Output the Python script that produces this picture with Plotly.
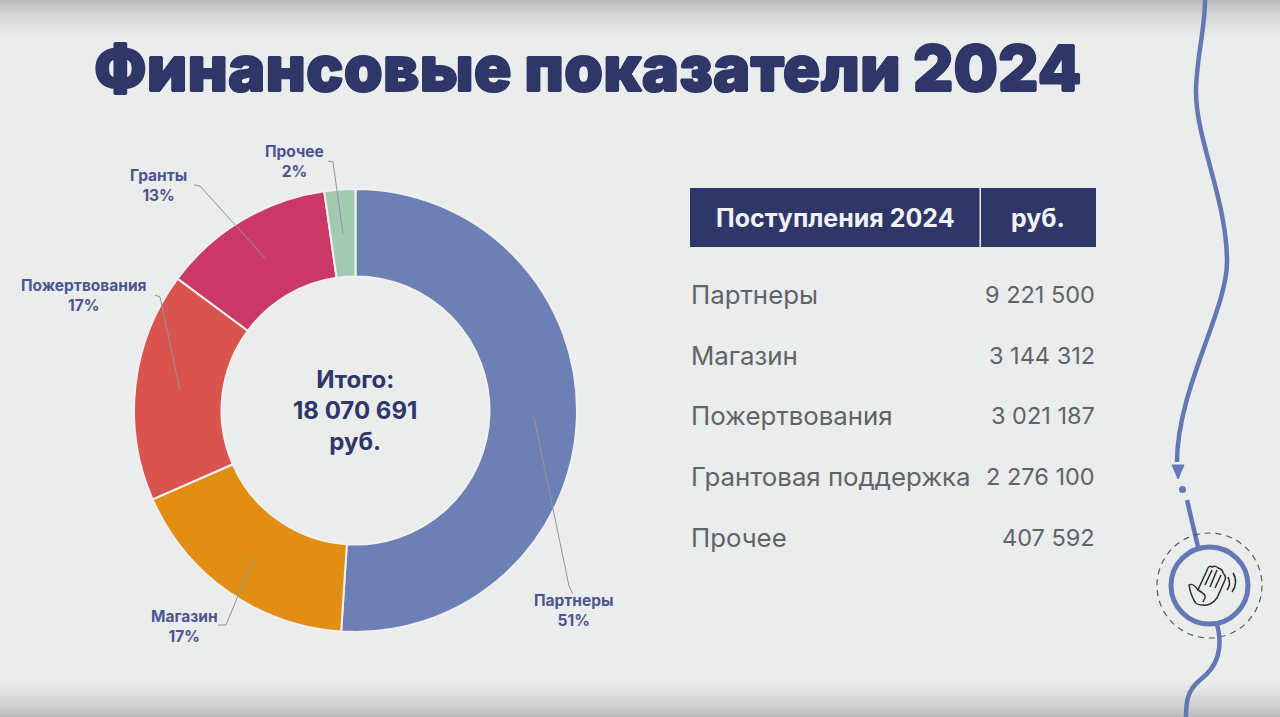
import plotly.graph_objects as go

# Data
pie_labels = ['Партнеры', 'Магазин', 'Пожертвования', 'Гранты', 'Прочее']
pie_values = [9221500, 3144312, 3021187, 2276100, 407592]
pie_colors = ['#6d80b5', '#e08f14', '#d9534f', '#cb3766', '#a3c9b3']
pie_pct = ['51%', '17%', '17%', '13%', '2%']
total_text = 'Итого:<br>18 070 691<br>руб.'

table_header = ['Поступления 2024', 'руб.']
table_names = ['Партнеры', 'Магазин', 'Пожертвования', 'Грантовая поддержка', 'Прочее']
table_amounts = ['9 221 500', '3 144 312', '3 021 187', '2 276 100', '407 592']
row_y = [294, 355, 415, 476, 537]

# label anchor and leader line for each slice
label_pos = [(574, 610), (184, 626), (84, 295), (158, 185), (294, 161)]
leaders = [
    'M 573 594 L 569 586 L 534 417',
    'M 218 625 L 226 625 L 254 557',
    'M 155 295 L 160 297 L 180 390',
    'M 194 185 L 200 186 L 265 258',
    'M 328 161 L 333 162 L 343 234',
]

NAVY = '#2f3768'
BLUE = '#6478b4'
LABEL = '#4b5590'
GREY = '#5f6468'
INK = '#2b2d33'

W, H = 1280, 717
fig = go.Figure()

fig.add_trace(go.Pie(
    labels=pie_labels, values=pie_values, sort=False, direction='clockwise', rotation=0,
    hole=0.605, textinfo='none', hoverinfo='label+percent', showlegend=False,
    marker=dict(colors=pie_colors, line=dict(color='#f0f0f0', width=2)),
    domain=dict(x=[134 / W, 577 / W], y=[1 - 632 / H, 1 - 189 / H]),
))

shapes = []

# video vignette along the top and bottom edges
for i in range(20):
    op = 0.2 * (1 - i / 20) ** 1.6
    shapes.append(dict(type='rect', x0=0, x1=W, y0=i * 2, y1=i * 2 + 2, fillcolor='black',
                       opacity=op, line_width=0, layer='below'))
    shapes.append(dict(type='rect', x0=0, x1=W, y0=H - i * 2 - 2, y1=H - i * 2, fillcolor='black',
                       opacity=op, line_width=0, layer='below'))

# table header
shapes.append(dict(type='rect', x0=690, x1=979.5, y0=188, y1=247, fillcolor=NAVY, line_width=0))
shapes.append(dict(type='rect', x0=981, x1=1096, y0=188, y1=247, fillcolor=NAVY, line_width=0))

# leader lines
for p in leaders:
    shapes.append(dict(type='path', path=p, line=dict(color='#8f979d', width=1)))

# wavy line on the right
shapes.append(dict(type='path', line=dict(color=BLUE, width=4.5),
                   path='M 1205 0 C 1205 30 1196 60 1196 92 C 1196 140 1227 200 1227 262 '
                        'C 1227 310 1177 390 1177 462'))
shapes.append(dict(type='path', path='M 1172 465 L 1184 465 L 1178 479 Z', fillcolor=BLUE,
                   line=dict(color=BLUE, width=1)))
shapes.append(dict(type='circle', x0=1179, x1=1186, y0=486, y1=493, fillcolor=BLUE, line_width=0))
shapes.append(dict(type='path', path='M 1187 500 L 1198 547', line=dict(color=BLUE, width=4.5)))
shapes.append(dict(type='circle', x0=1171, x1=1248, y0=547, y1=624, line=dict(color=BLUE, width=5)))
shapes.append(dict(type='circle', x0=1157, x1=1262, y0=533, y1=638,
                   line=dict(color='#55595e', width=1.2, dash='6px,5px')))
shapes.append(dict(type='path', line=dict(color=BLUE, width=4.5),
                   path='M 1217 624 C 1224 650 1216 668 1200 680 C 1188 690 1186 700 1186 717'))

# waving hand icon
hand = ('M 1189 585 C 1192 583 1196 587 1198 590 L 1208 568 C 1209 566 1211 566 1212 567 '
        'C 1214 566 1217 566 1218 568 C 1221 569 1223 571 1223 573 C 1225 575 1226 578 1225 580 '
        'L 1217 598 C 1213 603 1208 606 1203 605 C 1199 605 1196 604 1195 602 C 1192 597 1190 592 1189 585 Z')
icon_lines = ['M 1205 585 L 1212 570', 'M 1210 587 L 1217 570', 'M 1215 588 L 1221 575',
              'M 1198 590 C 1202 592 1206 595 1205 598 L 1203 602',
              'M 1228 577 C 1230 581 1230 586 1227 590', 'M 1233 573 C 1237 579 1236 587 1232 592']
shapes.append(dict(type='path', path=hand, line=dict(color=INK, width=1.5)))
for p in icon_lines:
    shapes.append(dict(type='path', path=p, line=dict(color=INK, width=1.5)))

annotations = []


def text(x, y, s, size, color, anchor='center', weight=400, shadow=None):
    annotations.append(dict(x=x, y=y, xref='x', yref='y', text=s, showarrow=False, xanchor=anchor,
                            yanchor='middle', align='center',
                            font=dict(family='Inter', size=size, color=color, weight=weight,
                                      shadow=shadow or 'none')))


text(587, 68, 'Финансовые показатели 2024', 62.6, NAVY, weight=900,
     shadow='0.7px 0 0 #2f3768, -0.7px 0 0 #2f3768, 0 0.7px 0 #2f3768, 0 -0.7px 0 #2f3768')
text(355, 410, total_text, 24, NAVY, weight=700)

for (x, y), name, pct in zip(label_pos, pie_labels, pie_pct):
    text(x, y, f'{name}<br>{pct}', 15.5, LABEL, weight=700)

text(835, 218, table_header[0], 25, '#f2f2f2', weight=700)
text(1038, 218, table_header[1], 25, '#f2f2f2', weight=700)
for y, name, amount in zip(row_y, table_names, table_amounts):
    text(689, y, name, 25.8, GREY, anchor='left')
    text(1097, y, amount, 23.5, GREY, anchor='right')

fig.update_layout(
    width=W, height=H, margin=dict(l=0, r=0, t=0, b=0),
    paper_bgcolor='#ebecec', plot_bgcolor='rgba(0,0,0,0)',
    xaxis=dict(range=[0, W], visible=False, fixedrange=True),
    yaxis=dict(range=[H, 0], visible=False, fixedrange=True),
    shapes=shapes, annotations=annotations,
)
# the page has a default body margin, drop it so the figure fills the window
fig.write_html('out.html', config={'displayModeBar': False},
               post_script="document.body.style.margin='0';")
